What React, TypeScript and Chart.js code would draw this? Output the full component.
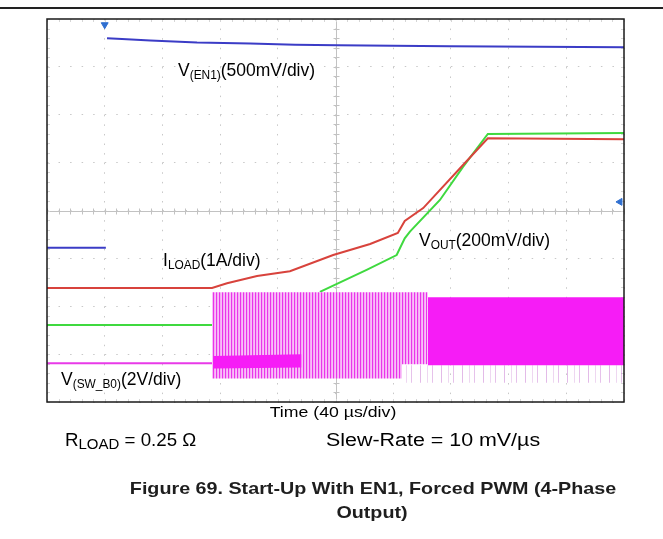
import React, { useEffect, useRef } from 'react';
import { Chart, registerables } from 'chart.js';
Chart.register(...registerables);

// x = time in screen divisions (0..10, 40 µs/div), y = screen divisions (0..8)
const enLowX = [0, 1.02];
const enLowY = [3.22, 3.22];
const enHighX = [1.04, 1.3, 1.79, 2.6, 3.52, 4.3, 5.04, 6.0, 6.98, 8.5, 10];
const enHighY = [7.6, 7.58, 7.55, 7.51, 7.49, 7.46, 7.45, 7.44, 7.43, 7.42, 7.41];

const iLoadX = [0, 2.86, 3.12, 3.64, 4.21, 4.96, 5.6, 6.08, 6.2, 6.52, 7.21, 7.64, 10];
const iLoadY = [2.38, 2.38, 2.48, 2.63, 2.73, 3.07, 3.3, 3.53, 3.78, 4.05, 4.95, 5.51, 5.49];

const vOutX = [0, 2.86, null, 4.73, 5.54, 6.06, 6.2, 6.29, 6.81, 7.21, 7.64, 10];
const vOutY = [1.61, 1.61, null, 2.3, 2.76, 3.07, 3.42, 3.56, 4.22, 4.91, 5.6, 5.62];

const swIdleX = [0, 2.86];
const swIdleY = [0.81, 0.81];
const swLightX = [2.86, 6.15, 6.15, 6.6];
const swLightTop = [2.29, 2.29, 2.29, 2.29];
const swLightBottom = [0.49, 0.49, 0.79, 0.79];
const swDenseX = [2.88, 4.41];
const swDenseTop = [0.96, 1.0];
const swDenseBottom = [0.7, 0.72];
const swSolidX = [6.6, 10];
const swSolidTop = [2.19, 2.19];
const swSolidBottom = [0.77, 0.77];
const swSpikeX = [6.15, 10];
const swSpikeTop = [0.77, 0.77];
const swSpikeBottom = [0.4, 0.4];

const markerX = [1.0, 9.93];
const markerY = [7.88, 4.18];
const markerRot = [180, -90];

const xDivs = 10;
const yDivs = 8;

const pts = (xs: (number | null)[], ys: (number | null)[]) =>
  xs.map((x, i) => ({ x: x as number, y: ys[i] as number }));

function stripes(ctx: CanvasRenderingContext2D, cols: string[]) {
  const c = document.createElement('canvas');
  c.width = cols.length;
  c.height = 1;
  const g = c.getContext('2d')!;
  cols.forEach((col, i) => {
    g.fillStyle = col;
    g.fillRect(i, 0, 1, 1);
  });
  return ctx.createPattern(c, 'repeat') as CanvasPattern;
}

const scopeGrid = {
  id: 'scopeGrid',
  beforeDatasetsDraw(chart: any) {
    const { ctx, chartArea: a, scales } = chart;
    const x = scales.x, y = scales.y;
    ctx.save();
    ctx.strokeStyle = '#c2c2c2';
    ctx.lineWidth = 1;
    const cx = Math.round(x.getPixelForValue(xDivs / 2)) + 0.5;
    const cy = Math.round(y.getPixelForValue(yDivs / 2)) + 0.5;
    ctx.beginPath();
    ctx.moveTo(a.left, cy);
    ctx.lineTo(a.right, cy);
    ctx.moveTo(cx, a.top);
    ctx.lineTo(cx, a.bottom);
    for (let i = 0; i <= xDivs * 5; i++) {
      const px = Math.round(x.getPixelForValue(i / 5)) + 0.5;
      ctx.moveTo(px, cy - 3);
      ctx.lineTo(px, cy + 3);
    }
    for (let i = 0; i <= yDivs * 5; i++) {
      const py = Math.round(y.getPixelForValue(i / 5)) + 0.5;
      ctx.moveTo(cx - 3, py);
      ctx.lineTo(cx + 3, py);
    }
    ctx.stroke();
    ctx.strokeStyle = '#d6d6d6';
    ctx.beginPath();
    for (let i = 0; i <= xDivs * 5; i++) {
      const px = Math.round(x.getPixelForValue(i / 5)) + 0.5;
      ctx.moveTo(px, a.top);
      ctx.lineTo(px, a.top + 3);
      ctx.moveTo(px, a.bottom);
      ctx.lineTo(px, a.bottom - 3);
    }
    for (let i = 0; i <= yDivs * 5; i++) {
      const py = Math.round(y.getPixelForValue(i / 5)) + 0.5;
      ctx.moveTo(a.left, py);
      ctx.lineTo(a.left + 3, py);
      ctx.moveTo(a.right, py);
      ctx.lineTo(a.right - 3, py);
    }
    ctx.stroke();
    ctx.restore();
  },
  afterDraw(chart: any) {
    const { ctx, chartArea: a } = chart;
    ctx.save();
    ctx.strokeStyle = '#1a1a1a';
    ctx.lineWidth = 1.5;
    ctx.strokeRect(a.left, a.top, a.right - a.left, a.bottom - a.top);
    ctx.restore();
  },
};

const lbl: React.CSSProperties = {
  position: 'absolute',
  whiteSpace: 'nowrap',
  lineHeight: 1,
  fontFamily: '"Liberation Sans", Arial, sans-serif',
  color: '#000',
};
const sub: React.CSSProperties = { fontSize: '0.68em', verticalAlign: '-0.22em' };

export default function App() {
  const ref = useRef<HTMLCanvasElement>(null);
  useEffect(() => {
    const canvas = ref.current!;
    const ctx = canvas.getContext('2d')!;
    const light = stripes(ctx, ['#ea34ea', '#f6aaf6', '#f8bff8']);
    const clear = 'rgba(255,255,255,0)';
    const spike = stripes(ctx, [
      'rgba(200,120,210,0.5)', clear, clear, clear, clear, clear, clear,
      'rgba(205,140,215,0.35)', clear, clear, clear, clear,
      'rgba(200,120,210,0.45)', clear, clear, clear, clear, clear, clear, clear, clear,
    ]);
    const magenta = '#f61cf6';
    const line = (data: any, color: string, order: number, w = 2) => ({
      data, borderColor: color, backgroundColor: color, borderWidth: w,
      pointRadius: 0, fill: false, tension: 0, spanGaps: false, order,
    });
    const band = (xs: number[], top: number[], bottom: number[], fillColor: any, order: number) => [
      { data: pts(xs, top), borderColor: 'rgba(0,0,0,0)', borderWidth: 0, pointRadius: 0, fill: '+1', backgroundColor: fillColor, order },
      { data: pts(xs, bottom), borderColor: 'rgba(0,0,0,0)', borderWidth: 0, pointRadius: 0, fill: false, order },
    ];
    const chart = new Chart(canvas, {
      type: 'line',
      data: {
        datasets: [
          line(pts(enLowX, enLowY), '#3b3cc6', 1),
          line(pts(enHighX, enHighY), '#3b3cc6', 1),
          line(pts(iLoadX, iLoadY), '#d8433c', 1),
          line(pts(swIdleX, swIdleY), '#e83ae8', 2),
          ...band(swLightX, swLightTop, swLightBottom, light, 3),
          ...band(swDenseX, swDenseTop, swDenseBottom, magenta, 2),
          ...band(swSolidX, swSolidTop, swSolidBottom, magenta, 3),
          ...band(swSpikeX, swSpikeTop, swSpikeBottom, spike, 3),
          line(pts(vOutX, vOutY), '#3fd93f', 4),
          {
            type: 'scatter',
            data: pts(markerX, markerY),
            pointStyle: 'triangle',
            pointRadius: 4,
            rotation: markerRot,
            backgroundColor: '#2f6fd0',
            borderColor: '#2f6fd0',
            order: 0,
          } as any,
        ] as any,
      },
      options: {
        animation: false,
        responsive: false,
        devicePixelRatio: 1,
        layout: { padding: { left: 47, top: 19, right: 39, bottom: 137 } },
        plugins: { legend: { display: false }, tooltip: { enabled: false } },
        scales: {
          x: {
            type: 'linear', min: 0, max: xDivs,
            ticks: { display: false, stepSize: 1 },
            grid: { color: '#c8c8c8', drawTicks: false, lineWidth: 1 },
            border: { display: false, dash: [1.5, 8.08] },
          },
          y: {
            type: 'linear', min: 0, max: yDivs,
            ticks: { display: false, stepSize: 1 },
            grid: { color: '#c8c8c8', drawTicks: false, lineWidth: 1 },
            border: { display: false, dash: [1.5, 10.04] },
          },
        },
      },
      plugins: [scopeGrid],
    });
    return () => chart.destroy();
  }, []);

  const F = 17.5;
  const top = (baseline: number, f: number) => baseline - 0.8465 * f;
  return (
    <div style={{ position: 'absolute', left: 0, top: 0, width: 663, height: 539, background: '#fff', overflow: 'hidden' }}>
      <div style={{ position: 'absolute', left: 0, top: 7, width: 663, height: 2, background: '#222' }} />
      <canvas ref={ref} width={663} height={539} style={{ position: 'absolute', left: 0, top: 0, width: 663, height: 539 }} />
      <div style={{ ...lbl, fontSize: F, left: 178, top: top(77, F) }}>V<span style={sub}>(EN1)</span>(500mV/div)</div>
      <div style={{ ...lbl, fontSize: F, left: 163, top: top(267, F) }}>I<span style={sub}>LOAD</span>(1A/div)</div>
      <div style={{ ...lbl, fontSize: F, left: 419, top: top(247, F) }}>V<span style={sub}>OUT</span>(200mV/div)</div>
      <div style={{ ...lbl, fontSize: F, left: 61, top: top(386, F) }}>V<span style={sub}>(SW_B0)</span>(2V/div)</div>
      <div style={{ ...lbl, fontSize: 15, left: 333, top: top(417, 15), transform: 'translateX(-50%) scaleX(1.18)' }}>Time (40 µs/div)</div>
      <div style={{ ...lbl, fontSize: 18, left: 65, top: top(446, 18), transform: 'scaleX(1.04)', transformOrigin: 'left' }}>R<span style={{ fontSize: '0.8em', verticalAlign: '-0.2em' }}>LOAD</span> = 0.25 Ω</div>
      <div style={{ ...lbl, fontSize: 18, left: 326, top: top(446, 18), transform: 'scaleX(1.19)', transformOrigin: 'left' }}>Slew-Rate = 10 mV/µs</div>
      <div style={{ ...lbl, fontSize: 17, fontWeight: 'bold', color: '#1e1e1e', left: 373, top: top(494, 17), transform: 'translateX(-50%) scaleX(1.16)' }}>Figure 69. Start-Up With EN1, Forced PWM (4-Phase</div>
      <div style={{ ...lbl, fontSize: 17, fontWeight: 'bold', color: '#1e1e1e', left: 372, top: top(518, 17), transform: 'translateX(-50%) scaleX(1.16)' }}>Output)</div>
    </div>
  );
}
